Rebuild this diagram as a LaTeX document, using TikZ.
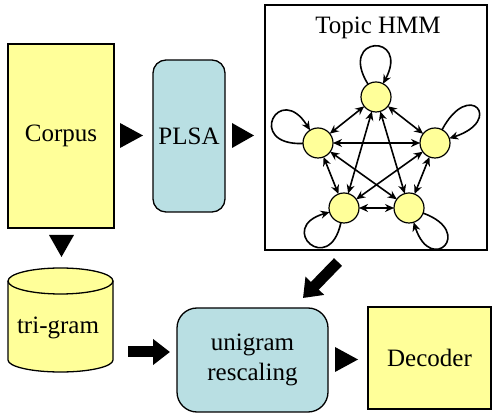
\documentclass[tikz,border=0pt]{standalone}
\usepackage{fontspec}
\setmainfont{Liberation Serif}
\usetikzlibrary{arrows.meta}
\definecolor{pyellow}{RGB}{255,255,153}
\definecolor{pblue}{RGB}{185,223,227}
\begin{document}
\begin{tikzpicture}[x=1pt,y=1pt,
  every node/.style={font=\fontsize{25}{30}\selectfont, inner sep=0pt, outer sep=0pt},
  ybox/.style={draw, line width=1.3pt, fill=pyellow},
  bbox/.style={draw, line width=1.3pt, fill=pblue},
  state/.style={circle, draw, line width=1.2pt, fill=pyellow, minimum size=30pt},
  hmm/.style={{Stealth[length=9pt,width=8pt]}-{Stealth[length=9pt,width=8pt]}, line width=1.6pt},
  lp/.style={-{Stealth[length=9pt,width=8pt]}, line width=1.6pt},
  fat/.style={line width=11pt, -{Triangle[length=17pt,width=25pt]}},
  tri/.style={fill=black}]
\useasboundingbox (0,0) rectangle (492,414);

% blocks
\node[ybox, minimum width=106pt, minimum height=184pt] (corpus) at (61,278) {Corpus};
\node[bbox, rounded corners=13pt, minimum width=72pt, minimum height=152pt] (plsa) at (189,278) {PLSA};
\node[draw, line width=1.3pt, fill=white, minimum width=222pt, minimum height=245pt] (hmmbox) at (376,286.5) {};
\node (title) at (378,386) {Topic HMM};
\node[bbox, rounded corners=20pt, minimum width=151pt, minimum height=104pt, align=center] (uni) at (252.5,54) {unigram\\rescaling};
\node[ybox, minimum width=123pt, minimum height=102pt] (dec) at (429.5,56) {Decoder};

% tri-gram cylinder
\fill[pyellow] (8,133) -- (8,54) arc[start angle=180,end angle=360,x radius=52.5,y radius=12] -- (113,133)
  arc[start angle=0,end angle=180,x radius=52.5,y radius=13] -- cycle;
\draw[line width=1.3pt] (8,133) -- (8,54) arc[start angle=180,end angle=360,x radius=52.5,y radius=12] -- (113,133);
\draw[line width=1.3pt] (60.5,133) ellipse[x radius=52.5,y radius=13];
\node[minimum width=105pt, minimum height=104pt] (trigram) at (60.5,94) {};
\node (trigramtext) at (58,86) {tri-gram};

% plain triangular arrows
\fill[tri] (120,291) -- (143,278.5) -- (120,266) -- cycle;
\fill[tri] (232,291) -- (254,278.5) -- (232,266) -- cycle;
\fill[tri] (49,179) -- (74,179) -- (61.5,157) -- cycle;
\fill[tri] (335,67) -- (358,54.5) -- (335,42) -- cycle;

% fat arrows
\coordinate (f1s) at (128,62);
\coordinate (f1e) at (170,62);
\coordinate (f2s) at (338,152);
\coordinate (f2e) at (303,116);
\draw[fat] (f1s) -- (f1e);
\draw[fat] (f2s) -- (f2e);

% Topic HMM
\node[state] (t) at (376,317) {};
\node[state] (l) at (318,271) {};
\node[state] (r) at (435,271) {};
\node[state] (bl) at (344,206) {};
\node[state] (br) at (409,206) {};

\draw[hmm] (t) -- (l);
\draw[hmm] (t) -- (r);
\draw[hmm] (t) -- (bl);
\draw[hmm] (t) -- (br);
\draw[hmm] (l) -- (r);
\draw[hmm] (l) -- (bl);
\draw[hmm] (l) -- (br);
\draw[hmm] (r) -- (bl);
\draw[hmm] (r) -- (br);
\draw[hmm] (bl) -- (br);

\draw[lp] (t.122) .. controls +(122:58) and +(62:58) .. (t.62);
\draw[lp] (l.182) .. controls +(182:58) and +(122:58) .. (l.122);
\draw[lp] (r.62) .. controls +(62:58) and +(18:58) .. (r.18);
\draw[lp] (bl.258) .. controls +(258:56) and +(196:56) .. (bl.196);
\draw[lp] (br.340) .. controls +(340:56) and +(288:56) .. (br.288);
\end{tikzpicture}
\end{document}
